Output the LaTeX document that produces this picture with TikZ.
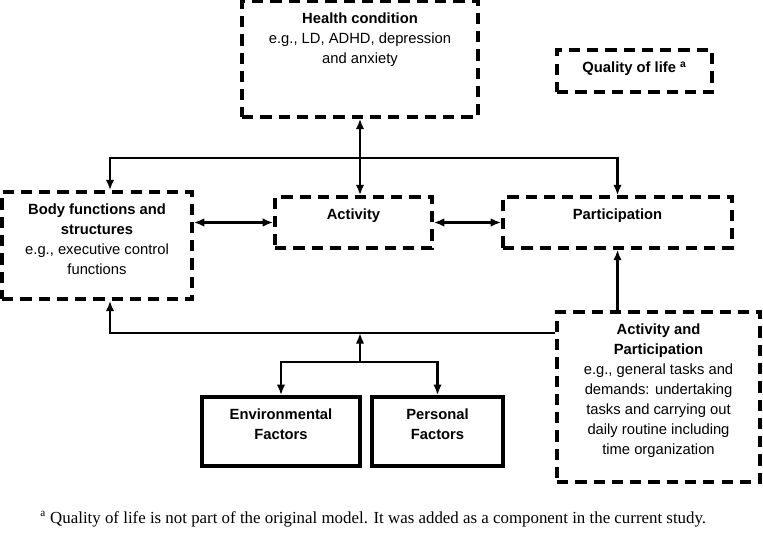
\documentclass[tikz,border=0pt]{standalone}
\usepackage{fontspec}
\setmainfont{Liberation Sans}
\newfontfamily\notefont{Liberation Serif}
\usetikzlibrary{arrows.meta, backgrounds, positioning}

\begin{document}
\begin{tikzpicture}[
            x=0.025cm, y=-0.025cm,
            background rectangle/.style={fill=white},
            show background rectangle,
            font=\fontsize{10.5}{14.2}\selectfont,
            >={Latex[length=7.5pt,width=6pt]},
            dbox/.style={draw, line width=2.4pt, dash pattern=on 8pt off 5pt, inner sep=0pt},
            sbox/.style={draw, line width=2.6pt, inner sep=0pt},
            lbl/.style={below=6pt, align=center},
            link/.style={line width=2pt}
        ]

        \useasboundingbox (0,0) rectangle (763,544);

        % ICF components
        \node[dbox, minimum width=5.9cm, minimum height=2.9cm,
            label={[lbl]north:{\textbf{Health condition}\\e.g., LD, ADHD, depression\\and anxiety}}]
            (health) at (360,59) {};
        \node[dbox, minimum width=3.875cm, minimum height=1.05cm,
            label={[lbl]north:{\textbf{Quality of life \textsuperscript{a}}}}]
            (qol) at (634.5,71) {};
        \node[dbox, minimum width=4.75cm, minimum height=2.675cm,
            label={[lbl]north:{\textbf{Body functions and}\\\textbf{structures}\\e.g., executive control\\functions}}]
            (body) at (97,245.5) {};
        \node[dbox, minimum width=3.925cm, minimum height=1.275cm,
            label={[lbl]north:{\textbf{Activity}}}]
            (act) at (353.5,222.5) {};
        \node[dbox, minimum width=5.725cm, minimum height=1.275cm,
            label={[lbl]north:{\textbf{Participation}}}]
            (part) at (617.5,222.5) {};
        \node[dbox, minimum width=5.075cm, minimum height=4.25cm,
            label={[lbl]north:{\textbf{Activity and}\\\textbf{Participation}\\e.g., general tasks and\\demands: undertaking\\tasks and carrying out\\daily routine including\\time organization}}]
            (ap) at (658.5,397) {};

        % contextual factors
        \node[sbox, minimum width=3.95cm, minimum height=1.725cm,
            label={[lbl]north:{\textbf{Environmental}\\\textbf{Factors}}}]
            (env) at (281,431.5) {};
        \node[sbox, minimum width=3.275cm, minimum height=1.725cm,
            label={[lbl]north:{\textbf{Personal}\\\textbf{Factors}}}]
            (pers) at (437.5,431.5) {};

        \coordinate (top bus) at (360,158);
        \coordinate (low bus) at (360,333);
        \coordinate (fac bus) at (360,362);

        \draw[link, <->] (health.south) -- (health.south |- act.north);
        \draw[link, ->] (top bus) -| ([xshift=0.325cm]body.north);
        \draw[link, ->] (top bus) -| (part.north);
        \draw[link, <->] (act.west) -- (act.west -| body.east);
        \draw[link, <->] (act.east) -- (part.west);
        \draw[link, ->] (part.south |- ap.north) -- (part.south);
        \draw[link, ->] (ap.west |- low bus) -| ([xshift=0.325cm]body.south);
        \draw[link, ->] (fac bus) -- (low bus);
        \draw[link, ->] (fac bus) -| (env.north);
        \draw[link, ->] (fac bus) -| (pers.north);

        \node[anchor=west, inner sep=0pt, font=\notefont\fontsize{12}{14}\selectfont]
            (note) at (40,519) {\textsuperscript{a} Quality of life is not part of the original model. It was added as a component in the current study.};

    \end{tikzpicture}
\end{document}
